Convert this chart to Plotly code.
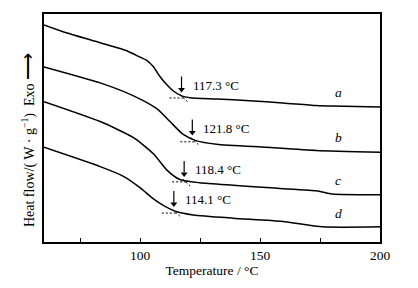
import numpy as np
import plotly.graph_objects as go

# Traced DSC curves (temperature in °C, heat flow in arbitrary units)
T_a = [60, 69.6, 83.4, 94.5, 100, 102.8, 105.6, 108.3, 111.1, 113.9, 117.3, 120.8, 131.9, 145.7, 159.5, 173.4, 180.1, 200]
H_a = [224.7, 216.3, 206.3, 198, 191.3, 188, 181.3, 171.3, 163, 156.3, 151.3, 149.3, 148, 146.3, 144, 141.3, 140.7, 139.7]

T_b = [60, 83.4, 97.3, 107.0, 112.5, 118.0, 123.6, 131.9, 152.6, 173.4, 200]
H_b = [181.3, 164.7, 151.3, 138, 124.7, 111.3, 104.7, 101.3, 98, 94.7, 93]

T_c = [60, 83.4, 97.3, 105.6, 111.1, 116.6, 124.9, 138.8, 152.6, 173.4, 180.1, 200]
H_c = [145.3, 124.7, 108, 91.3, 74.7, 64.7, 61.3, 58.7, 56.3, 53, 49.7, 49]

T_d = [60, 83.4, 93.1, 100, 105.6, 109.7, 115.3, 122.2, 138.8, 159.5, 176.1, 200]
H_d = [98, 78, 68, 56.3, 44.7, 38, 31.3, 28, 24.7, 21.3, 15.7, 15.7]

curve_names = ["a", "b", "c", "d"]
Tg = [117.3, 121.8, 118.4, 114.1]
Tg_labels = ["117.3 °C", "121.8 °C", "118.4 °C", "114.1 °C"]

x_ticks = [100, 150, 200]
x_minor = [75, 125, 175]

FONT = "Liberation Serif, Times New Roman, serif"

curves = [(T_a, H_a), (T_b, H_b), (T_c, H_c), (T_d, H_d)]

fig = go.Figure()
for (T, H), name in zip(curves, curve_names):
    fig.add_trace(go.Scatter(x=T, y=H, mode="lines", name=name,
                             line=dict(color="black", width=1.5, shape="spline", smoothing=0.6),
                             showlegend=False, hoverinfo="skip"))

annotations = []
for (T, H), name, tg, lab in zip(curves, curve_names, Tg, Tg_labels):
    yc = float(np.interp(tg, T, H))
    # tangent construction (dashed)
    yb = float(np.interp(tg + 3, T, H))
    fig.add_trace(go.Scatter(x=[tg - 5, tg + 1.5], y=[yb - 0.5, yb - 0.5], mode="lines",
                             line=dict(color="black", width=1, dash="2px,2px"),
                             showlegend=False, hoverinfo="skip"))
    fig.add_trace(go.Scatter(x=[tg - 0.5, tg + 2.5], y=[yc + 1, yc - 6], mode="lines",
                             line=dict(color="black", width=1, dash="2px,2px"),
                             showlegend=False, hoverinfo="skip"))
    # downward arrow marking Tg
    tip = yc + 4
    fig.add_trace(go.Scatter(x=[tg, tg], y=[tip + 4, tip + 16], mode="lines",
                             line=dict(color="black", width=1.2),
                             showlegend=False, hoverinfo="skip"))
    fig.add_trace(go.Scatter(x=[tg], y=[tip + 2.5], mode="markers",
                             marker=dict(symbol="triangle-down", size=6, color="black",
                                         line=dict(width=0)),
                             showlegend=False, hoverinfo="skip"))
    annotations.append(dict(x=tg, y=yc + 11, xref="x", yref="y", text=lab, showarrow=False,
                            xanchor="left", yanchor="middle", xshift=9,
                            font=dict(family=FONT, size=13, color="black")))
    # curve letter
    yl = float(np.interp(182.5, T, H))
    annotations.append(dict(x=182.5, y=yl + 14, xref="x", yref="y",
                            text="<i>%s</i>" % name, showarrow=False,
                            font=dict(family=FONT, size=13.5, color="black")))

annotations.append(dict(x=0, y=0.447, xref="paper", yref="paper", xshift=-17,
                        text="Heat flow/( W · g<sup>−1</sup>)  Exo <span style='font-size:19px'>⟶</span>",
                        textangle=-90,
                        showarrow=False, xanchor="center", yanchor="middle",
                        font=dict(family=FONT, size=14, color="black")))

fig.update_layout(
    width=418, height=288,
    margin=dict(l=43.5, r=38, t=12, b=40),
    paper_bgcolor="white", plot_bgcolor="white",
    font=dict(family=FONT, size=13, color="black"),
    annotations=annotations,
)
fig.update_xaxes(range=[60, 200], tickvals=x_ticks, ticks="inside", ticklen=4,
                 tickwidth=1.2, tickcolor="black", showgrid=False, zeroline=False,
                 showline=True, linecolor="black", linewidth=1.6, mirror=True,
                 minor=dict(tickvals=x_minor, ticks="inside", ticklen=4, tickwidth=1.2,
                            tickcolor="black", showgrid=False),
                 tickfont=dict(family=FONT, size=13.5, color="black"),
                 title=dict(text="Temperature / °C", standoff=4,
                            font=dict(family=FONT, size=13.5, color="black")))
fig.update_yaxes(range=[0, 236], showticklabels=False, ticks="", showgrid=False,
                 zeroline=False, showline=True, linecolor="black", linewidth=1.6,
                 mirror=True)

fig.write_html("out.html", config={"displayModeBar": False},
               post_script="document.body.style.margin='0';document.body.style.overflow='hidden';")
